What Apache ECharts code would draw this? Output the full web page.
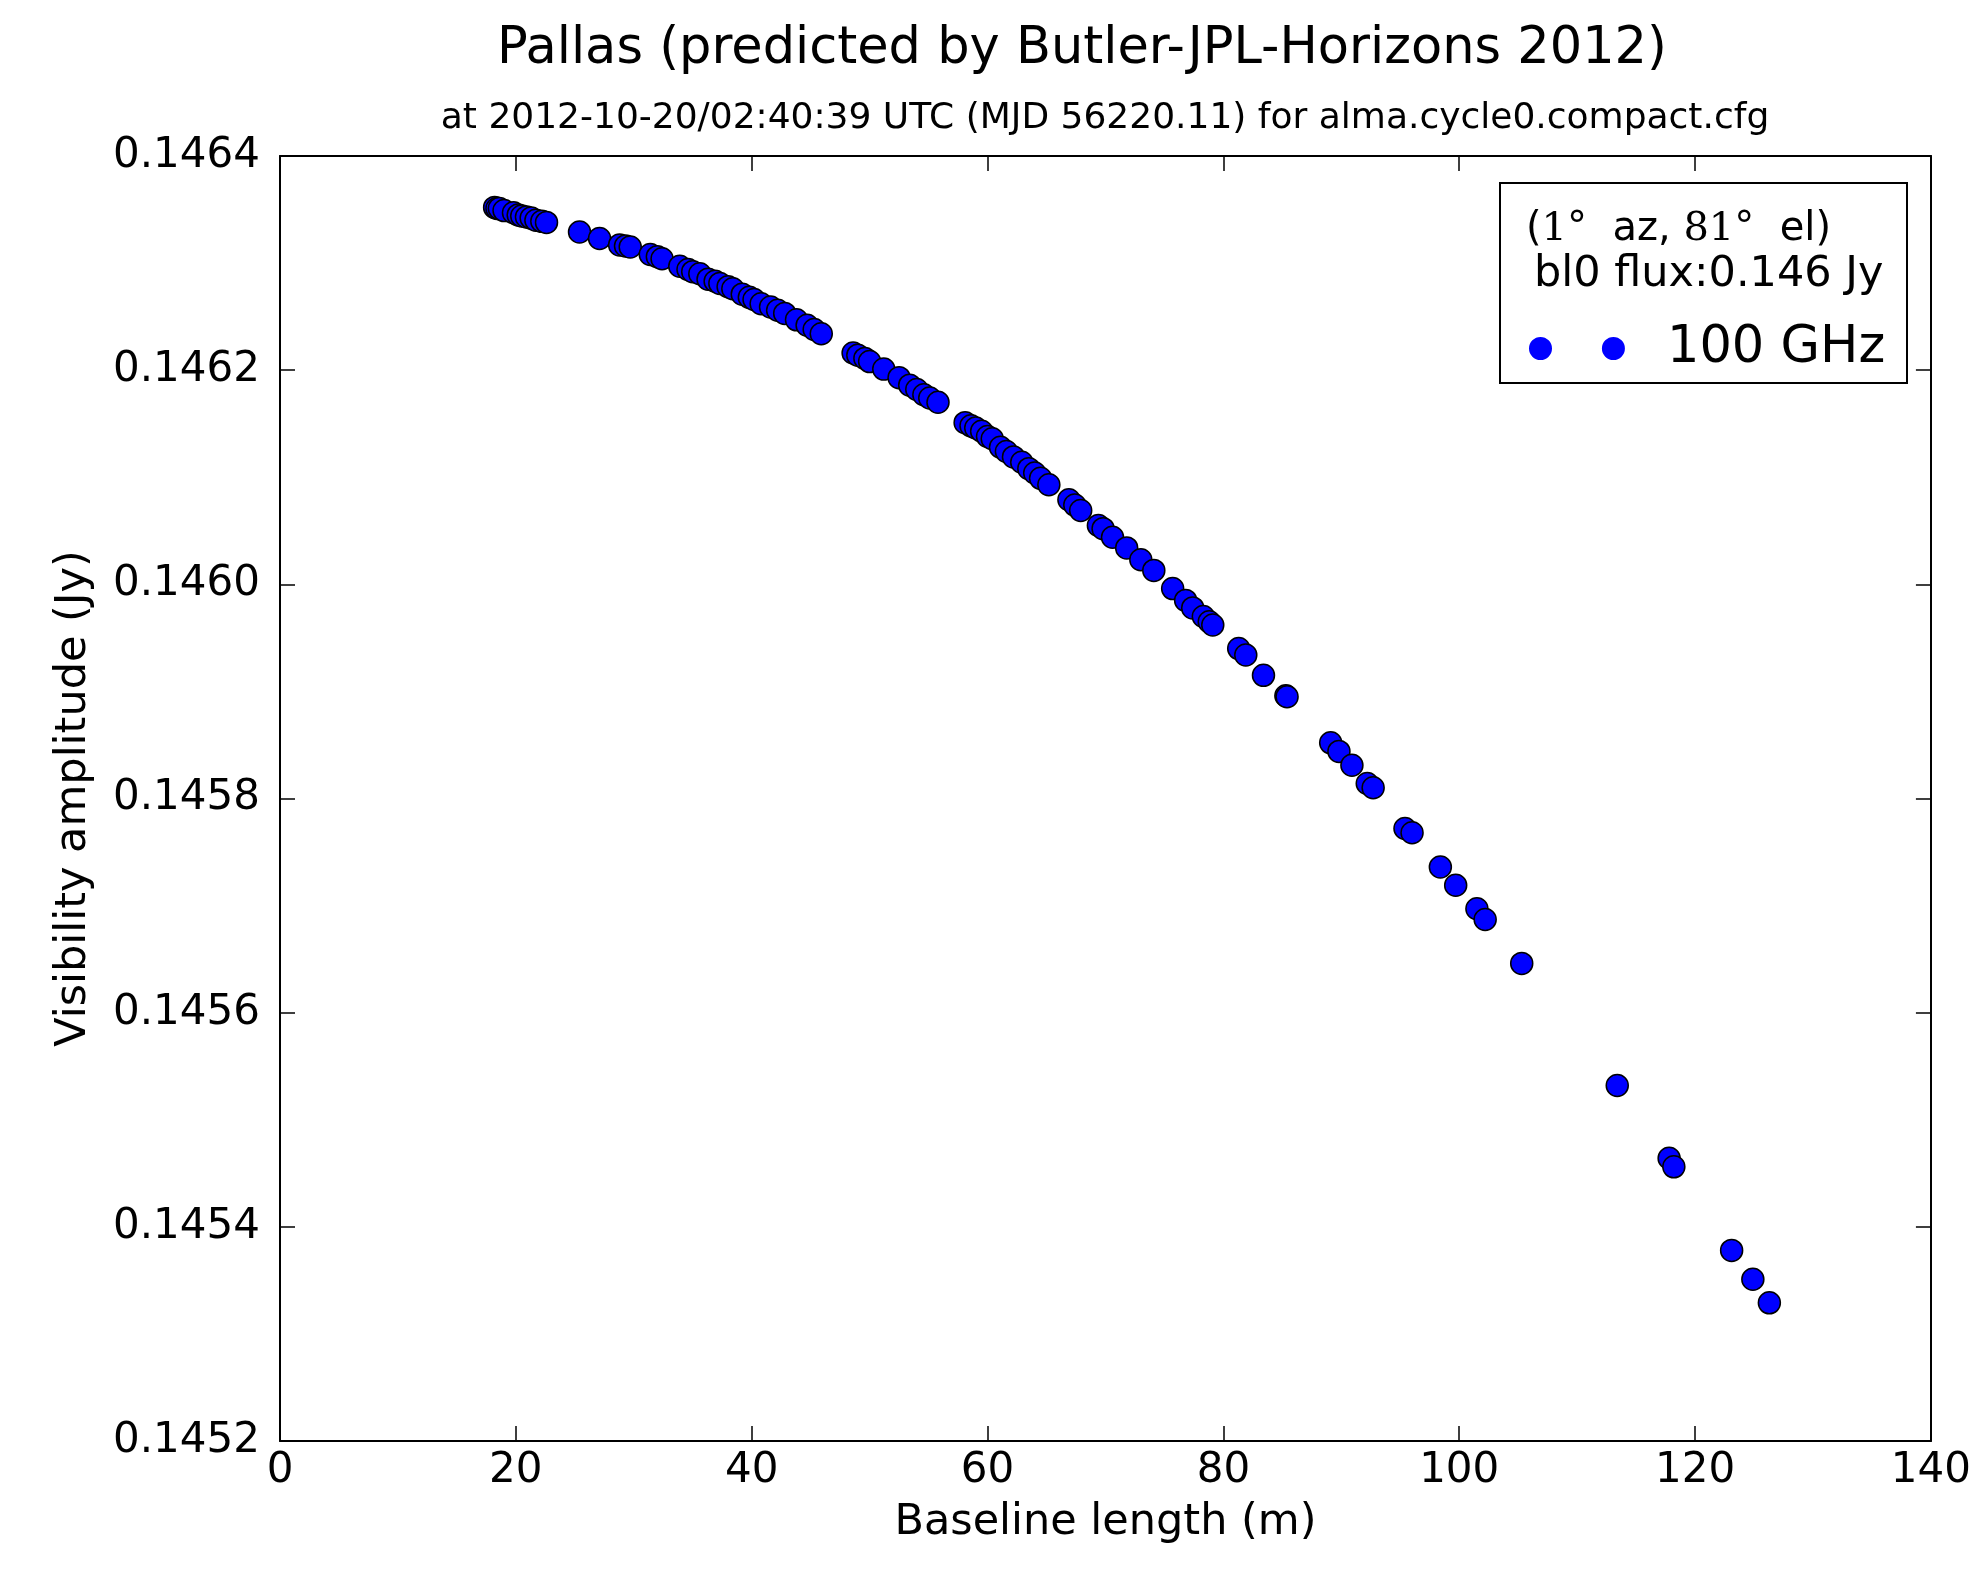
<!DOCTYPE html>
<html>
<head>
<meta charset="utf-8">
<script src="https://cdn.jsdelivr.net/npm/echarts@6/dist/echarts.min.js"></script>
<style>
html,body{margin:0;padding:0;background:#fff;}
#chart{width:1974px;height:1569px;}
</style>
</head>
<body>
<div id="chart"></div>
<script>
// Baseline length (m)
const baselineLength = [
  18.2, 18.4, 18.6, 19.0, 19.8, 20.2, 20.5, 20.9, 21.3, 21.7, 22.2, 22.6,
  25.4, 27.1, 28.8, 29.3, 29.7, 31.4, 32.0, 32.4,
  33.9, 34.6, 35.0, 35.6, 36.3, 36.9, 37.3, 38.0, 38.4, 39.2, 39.8, 40.2,
  40.8, 41.6, 42.2, 42.8, 43.8, 44.7, 45.3, 45.9,
  48.6, 49.0, 49.6, 50.0, 51.2, 52.5, 53.4, 54.0, 54.6, 55.1, 55.8,
  58.1, 58.6, 59.0, 59.5, 60.0, 60.4, 61.1, 61.6, 62.2, 62.9, 63.5, 64.0, 64.5, 65.2,
  66.9, 67.4, 67.9, 69.4, 69.8, 70.6, 71.8, 73.0, 74.1, 75.7, 76.8, 77.4, 78.3, 78.8, 79.1,
  81.3, 81.9, 83.4, 85.3, 85.4,
  89.1, 89.8, 90.9, 92.2, 92.7, 95.4, 96.0, 98.4, 99.7, 101.5, 102.2, 105.3,
  113.4, 117.8, 118.2, 123.1, 124.9, 126.3
];
// Visibility amplitude (Jy)
const visAmplitude = [
  0.146352, 0.146351, 0.146351, 0.146349, 0.146347, 0.146345, 0.146344, 0.146343, 0.146342, 0.146340, 0.146339, 0.146338,
  0.146329, 0.146323, 0.146317, 0.146316, 0.146315, 0.146308, 0.146306, 0.146304,
  0.146297, 0.146294, 0.146292, 0.146290, 0.146285, 0.146283, 0.146281, 0.146278, 0.146276, 0.146271, 0.146268, 0.146266,
  0.146262, 0.146259, 0.146256, 0.146253, 0.146247, 0.146242, 0.146238, 0.146234,
  0.146216, 0.146214, 0.146211, 0.146208, 0.146201, 0.146193, 0.146186, 0.146182, 0.146177, 0.146174, 0.146170,
  0.146151, 0.146148, 0.146146, 0.146143, 0.146138, 0.146136, 0.146128, 0.146124, 0.146119, 0.146114, 0.146108, 0.146104, 0.146099, 0.146093,
  0.146079, 0.146074, 0.146069, 0.146055, 0.146052, 0.146044, 0.146034, 0.146023, 0.146013, 0.145996, 0.145985, 0.145978, 0.145970, 0.145965, 0.145962,
  0.145940, 0.145934, 0.145915, 0.145896, 0.145895,
  0.145852, 0.145844, 0.145831, 0.145814, 0.145810, 0.145772, 0.145768, 0.145736, 0.145719, 0.145697, 0.145687, 0.145646,
  0.145532, 0.145464, 0.145456, 0.145378, 0.145351, 0.145329
];
const xTicks = [0, 20, 40, 60, 80, 100, 120, 140];
const yTickLabels = ['0.1452', '0.1454', '0.1456', '0.1458', '0.1460', '0.1462', '0.1464'];
const seriesName = '100 GHz';
const titleText = 'Pallas (predicted by Butler-JPL-Horizons 2012)';
const subtitleText = 'at 2012-10-20/02:40:39 UTC (MJD 56220.11) for alma.cycle0.compact.cfg';

const points = baselineLength.map((x, i) => [x, visAmplitude[i]]);
const FONT = 'DejaVu Sans';

const chart = echarts.init(document.getElementById('chart'));

const baseAxisLine = { show: true, onZero: false, lineStyle: { color: '#000', width: 2 } };
const baseTick = { show: true, inside: true, length: 15, lineStyle: { color: '#000', width: 1.5 } };

const option = {
  backgroundColor: '#fff',
  animation: false,
  title: [
    { text: titleText, left: 1077, top: 19, textAlign: 'center',
      textStyle: { fontFamily: FONT, fontSize: 51, fontWeight: 'normal', color: '#000' } },
    { text: subtitleText, left: 1100, top: 96, textAlign: 'center',
      textStyle: { fontFamily: FONT, fontSize: 36, fontWeight: 'normal', color: '#000' } }
  ],
  grid: { left: 280, top: 156, right: 41, bottom: 128, containLabel: false },
  xAxis: [
    {
      type: 'value', min: 0, max: 140, interval: 20, position: 'bottom',
      name: 'Baseline length (m)', nameLocation: 'middle', nameGap: 60,
      nameTextStyle: { fontFamily: FONT, fontSize: 43, color: '#000' },
      axisLine: baseAxisLine, axisTick: baseTick,
      axisLabel: { fontFamily: FONT, fontSize: 42, color: '#000', margin: 9,
        formatter: v => (xTicks.indexOf(Math.round(v)) >= 0 ? String(Math.round(v)) : '') },
      splitLine: { show: false }
    },
    {
      type: 'value', min: 0, max: 140, interval: 20, position: 'top',
      axisLine: baseAxisLine, axisTick: baseTick, axisLabel: { show: false }, splitLine: { show: false }
    }
  ],
  yAxis: [
    {
      type: 'value', min: 0.1452, max: 0.1464, interval: 0.0002, position: 'left',
      name: 'Visibility amplitude (Jy)', nameLocation: 'middle', nameGap: 185,
      nameTextStyle: { fontFamily: FONT, fontSize: 43, color: '#000' },
      axisLine: baseAxisLine, axisTick: baseTick,
      axisLabel: { fontFamily: FONT, fontSize: 42, color: '#000', margin: 20,
        formatter: v => {
          const idx = Math.round((v - 0.1452) / 0.0002);
          return yTickLabels[idx] !== undefined ? yTickLabels[idx] : '';
        } },
      splitLine: { show: false }
    },
    {
      type: 'value', min: 0.1452, max: 0.1464, interval: 0.0002, position: 'right',
      axisLine: baseAxisLine, axisTick: baseTick, axisLabel: { show: false }, splitLine: { show: false }
    }
  ],
  legend: {
    show: true,
    data: [seriesName],
    left: 1524, top: 318,
    orient: 'vertical',
    itemWidth: 96, itemHeight: 23,
    icon: 'path://M0,5a5,5 0 1,0 10,0a5,5 0 1,0 -10,0M31.7,5a5,5 0 1,0 10,0a5,5 0 1,0 -10,0',
    itemStyle: { color: '#0000ff', borderWidth: 0 },
    textStyle: { fontFamily: FONT, fontSize: 51, color: '#000', padding: [0, 0, 0, 37] },
    z: 20,
    selectedMode: false
  },
  graphic: [
    { type: 'rect', z: 10, shape: { x: 1500, y: 183, width: 407, height: 200 },
      style: { fill: '#fff', stroke: '#000', lineWidth: 2 } },
    { type: 'text', z: 11, left: 1526, top: 210,
      style: {
        text: '{s|(}{r|1}{s|°  az, }{r|81}{s|°  el)}',
        rich: {
          s: { fontFamily: FONT, fontSize: 40, fill: '#000' },
          r: { fontFamily: 'DejaVu Serif', fontSize: 40, fill: '#000' }
        }
      } },
    { type: 'text', z: 11, left: 1534, top: 253,
      style: { text: 'bl0 flux:0.146 Jy', font: '43px "DejaVu Sans"', fill: '#000' } }
  ],
  series: [
    {
      name: seriesName,
      type: 'scatter',
      xAxisIndex: 0, yAxisIndex: 0,
      data: points,
      symbol: 'circle',
      symbolSize: 22,
      itemStyle: { color: '#0000ff', borderColor: '#000', borderWidth: 1.5, opacity: 1 },
      z: 5
    }
  ]
};
chart.setOption(option);
</script>
</body>
</html>
